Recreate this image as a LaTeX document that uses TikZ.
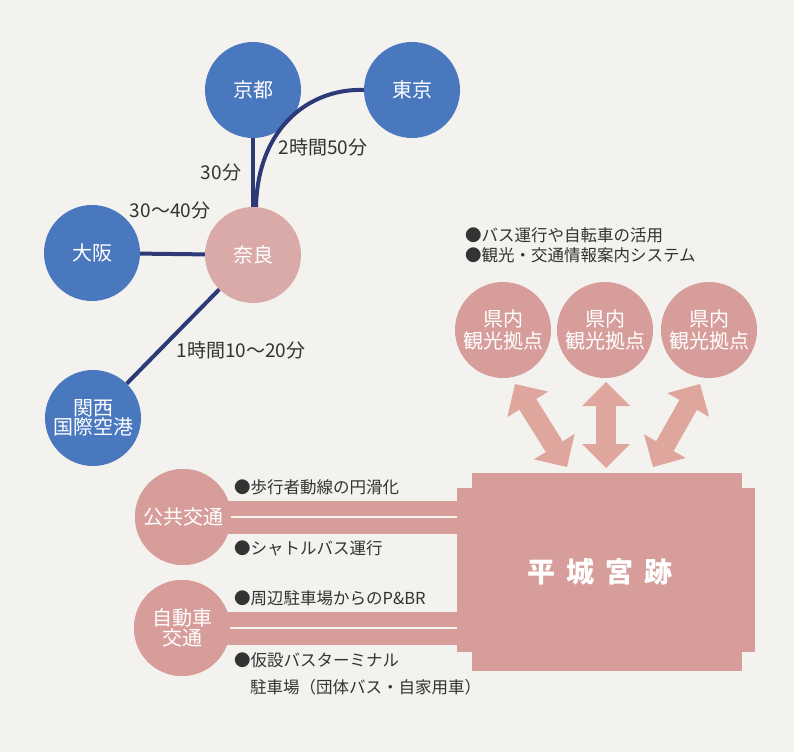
\documentclass[tikz,border=0pt]{standalone}
\usepackage{fontspec}
\setmainfont{Noto Sans CJK JP}
\usetikzlibrary{arrows.meta}
\definecolor{bluec}{HTML}{4A78BF}
\definecolor{pinkc}{HTML}{D79D9A}
\definecolor{narac}{HTML}{D9AAA8}
\definecolor{arrowc}{HTML}{DFA69E}
\definecolor{navyc}{HTML}{2E3A78}
\definecolor{bgc}{HTML}{F3F2EE}
\definecolor{txtc}{HTML}{333333}
\begin{document}
\begin{tikzpicture}[x=1pt,y=-1pt,
 bluecirc/.style={circle, fill=bluec, minimum size=96pt, inner sep=0pt, text=white, font=\fontsize{20}{22}\selectfont, align=center},
 pinkcirc/.style={circle, fill=pinkc, minimum size=96pt, inner sep=0pt, text=white, font=\fontsize{20}{23}\selectfont, align=center},
 route/.style={draw=navyc, line width=4pt},
 lbl/.style={text=txtc, font=\fontsize{19}{21}\selectfont, inner sep=0pt},
 bullet/.style={text=txtc, font=\fontsize{16.5}{22}\selectfont, inner sep=0pt, anchor=west, align=left},
 band/.style={draw=pinkc, line width=33pt},
 gapline/.style={draw=bgc, line width=2pt},
 bigarrow/.style={draw=arrowc, line width=20pt, {Triangle[length=24pt,width=48pt,line width=0pt]}-{Triangle[length=24pt,width=48pt,line width=0pt]}}
]
\fill[bgc] (0,0) rectangle (794,752);
\useasboundingbox (0,0) rectangle (794,752);

% map
\node[bluecirc] (kyoto) at (253,90) {京都};
\node[bluecirc] (tokyo) at (412,90) {東京};
\node[pinkcirc, fill=narac] (nara) at (253,255) {奈良};
\node[bluecirc] (osaka) at (92,253) {大阪};
\node[bluecirc] (kix) at (93,418) {関西\\[-3pt]国際空港};

\draw[route] (kyoto) -- (nara);
\draw[route] (tokyo.west) .. controls (312,88) and (258,125) .. ([xshift=3pt]nara.north);
\draw[route] (osaka) -- (nara);
\draw[route] (kix) -- (nara);

\node[lbl] (l1) at (323,147) {2時間50分};
\node[lbl] (l2) at (221,172) {30分};
\node[lbl] (l3) at (170,210) {30～40分};
\node[lbl] (l4) at (241,350) {1時間10～20分};

% right part
\node[bullet] (b1) at (465,235) {●バス運行や自転車の活用};
\node[bullet] (b2) at (465,255) {●観光・交通情報案内システム};

\node[pinkcirc] (k1) at (503,330) {県内\\[-1pt]観光拠点};
\node[pinkcirc] (k2) at (605,330) {県内\\[-1pt]観光拠点};
\node[pinkcirc] (k3) at (709,330) {県内\\[-1pt]観光拠点};

% central block
\fill[pinkc] (457,488) rectangle (755,652);
\node[fill=pinkc, minimum width=270pt, minimum height=198pt, inner sep=0pt, text=white,
      font=\fontsize{28}{30}\selectfont\bfseries] (heijo) at (607,572)
      {\hspace*{-14pt}平\hspace{11pt}城\hspace{11pt}宮\hspace{11pt}跡};

\coordinate (a1s) at (515,384); \coordinate (a1e) at (567,467);
\coordinate (a2s) at (606,382); \coordinate (a2e) at (606,468);
\coordinate (a3s) at (700,384); \coordinate (a3e) at (653,467);
\draw[bigarrow] (a1s) -- (a1e);
\draw[bigarrow] (a2s) -- (a2e);
\draw[bigarrow] (a3s) -- (a3e);

% left part
\node[pinkcirc] (pub) at (183,517) {公共交通};
\node[pinkcirc] (car) at (182,628) {自動車\\[-3pt]交通};
\draw[band] (pub.center) -- (pub.center -| heijo.west);
\draw[band] (car.center) -- (car.center -| heijo.west);
\node[pinkcirc] at (pub) {公共交通};
\node[pinkcirc] at (car) {自動車\\[-3pt]交通};
\draw[gapline] (pub.east) -- ([xshift=-15pt]pub.east -| heijo.west);
\draw[gapline] (car.east) -- ([xshift=-15pt]car.east -| heijo.west);

\node[bullet] (c1) at (234,487) {●歩行者動線の円滑化};
\node[bullet] (c2) at (234,548) {●シャトルバス運行};
\node[bullet] (c3) at (234,598) {●周辺駐車場からのP\&BR};
\node[bullet] (c4) at (234,660) {●仮設バスターミナル};
\node[bullet] (c5) at (250,687) {駐車場（団体バス・自家用車）};
\end{tikzpicture}
\end{document}
